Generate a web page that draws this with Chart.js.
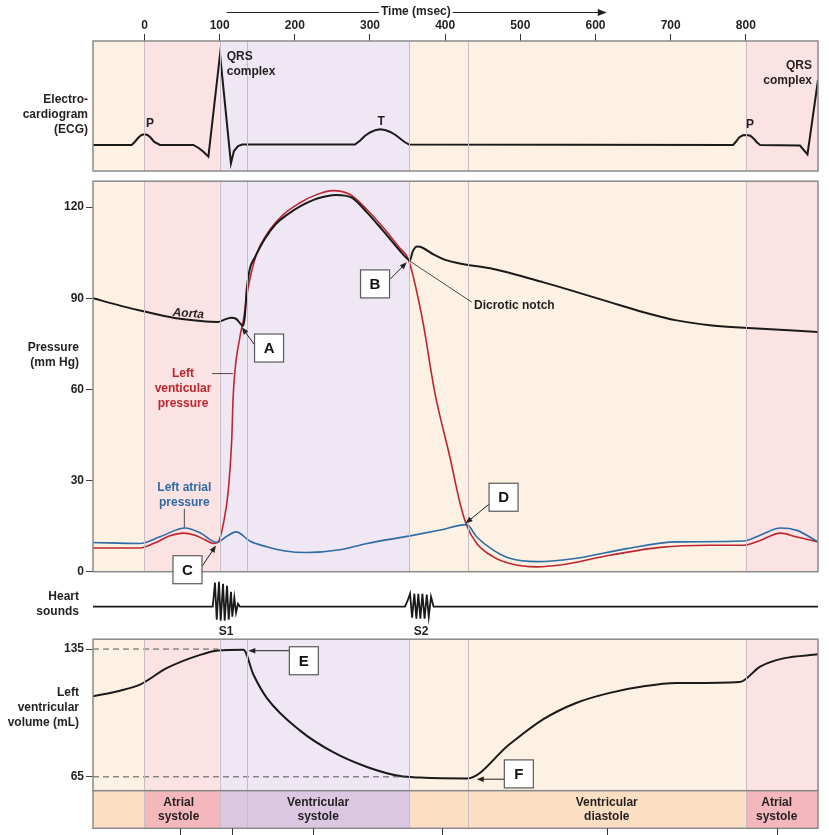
<!DOCTYPE html>
<html>
<head>
<meta charset="utf-8">
<script src="https://cdn.jsdelivr.net/npm/chart.js@4/dist/chart.umd.min.js"></script>
<style>
  html, body { margin: 0; padding: 0; background: #fff; }
  body { width: 829px; height: 835px; position: relative; overflow: hidden; }
  canvas { position: absolute; left: 0; }
</style>
</head>
<body>
<canvas id="graficoEcg" width="829" height="174" style="top:0"></canvas>
<canvas id="graficoPressao" width="829" height="418" style="top:172px"></canvas>
<canvas id="graficoSons" width="829" height="66" style="top:574px"></canvas>
<canvas id="graficoVolume" width="829" height="205" style="top:630px"></canvas>
<canvas id="graficoFases" width="829" height="50" style="top:785px"></canvas>
<script>
// ===== Dados (tempo em ms) =====
const tempoTicks = [0, 100, 200, 300, 400, 500, 600, 700, 800];
const pressaoTicks = [0, 30, 60, 90, 120];
const volumeTicks = [65, 135];

// Fases do ciclo cardíaco
const faseInicio = [-68.5, 0, 100, 352, 800];
const faseFim = [0, 100, 352, 800, 896];
const divisorias = [0, 100, 136, 352, 430, 800];
const faseRotulos = [['Atrial', 'systole'], ['Ventricular', 'systole'], ['Ventricular', 'diastole'], ['Atrial', 'systole']];
const faseRotuloTempo = [45.5, 231, 615, 841];
const pontasInferiores = [47, 116, 224, 395.5, 615, 841];

// ECG
const ecgTempo = [-68.5, -17, -13, -8, -4, 0, 4, 8, 13, 20.6, 65, 72, 78, 85, 100.5, 115, 119, 124.4, 130,
  280, 287, 293, 300, 307, 313, 320, 327, 334, 340, 346, 352,
  783, 787, 791, 796, 801, 806, 811, 815, 819, 872, 882, 896];
const ecgValor = [0, 0, 0.3, 0.75, 1.0, 1.07, 1.0, 0.75, 0.3, 0, 0, -0.3, -0.65, -1.17, 9.07, -1.83, -0.6, -0.1, 0.05,
  0.05, 0.45, 0.9, 1.25, 1.48, 1.58, 1.5, 1.3, 1.0, 0.65, 0.3, 0.05,
  0, 0.35, 0.75, 0.97, 1.0, 0.92, 0.6, 0.25, 0, -0.05, -0.95, 6.5];

// Pressão aórtica (mm Hg)
const aortaTempo = [-68.5, -30, 0, 40, 75, 98, 105, 115, 122, 128, 131, 133.5, 136, 140, 147, 160, 175, 190, 207, 230, 255, 275, 295, 317, 337, 350, 353,
  357, 363, 370, 385, 400, 425, 464, 531, 575, 619, 664, 708, 752, 797, 896];
const aortaPressao = [90, 87.4, 85.6, 83.5, 82.5, 82.2, 82.8, 83.6, 83.2, 81.5, 80.9, 84, 93, 99.5, 103.5, 109.5, 114.5, 117.5, 120.2, 122.8, 124.0, 123.2, 118.5, 112.3, 106.4, 102.9, 102.4,
  105.5, 107.0, 106.6, 104.3, 102.6, 101.2, 99.6, 95.2, 92, 88.7, 85.4, 82.7, 81.1, 80.3, 78.9];

// Pressão ventricular esquerda (mm Hg)
const vePressaoTempo = [-68.5, -6, 14, 34, 52, 67, 80.5, 91.5, 98, 105, 111.5, 116, 118, 127, 131.5, 138, 149, 162.6, 184.7, 207, 228, 251, 273.5, 295.7, 317.8, 339, 351,
  369, 386.6, 406.5, 420, 428.7, 442, 464, 486, 522, 553, 619, 686, 752, 797, 819, 846, 868, 896];
const vePressao = [7.8, 7.8, 9.5, 11.8, 12.7, 12, 10.5, 9.3, 9.8, 15.8, 26.7, 43, 57.7, 77.3, 82.7, 93.6, 104.5, 111, 117.5, 121.4, 124, 125.4, 124.1, 119.2, 113.2, 106.7, 102.8,
  84, 58.5, 37.5, 22.3, 15.2, 9.3, 4.9, 2.7, 1.6, 2.2, 5.4, 8.0, 8.7, 8.7, 10.3, 12.7, 11.4, 9.8];

// Pressão atrial esquerda (mm Hg)
const aePressaoTempo = [-68.5, -6, 20.6, 54, 74, 96, 108.5, 122, 140.6, 162.6, 187, 216, 260, 296, 353.5, 393.5, 428.7,
  442, 464, 486, 522, 575, 641.7, 708, 797, 819, 846, 868, 896];
const aePressao = [9.6, 9.3, 11.5, 14.4, 12.8, 9.6, 11.5, 13.1, 10, 8.2, 6.8, 6.3, 7.2, 9.3, 11.8, 13.7, 15.5,
  11.4, 7.1, 4.4, 3.3, 4.4, 7.6, 9.8, 10.1, 12.0, 14.4, 13.6, 9.8];

// Bulhas cardíacas (amplitude arbitrária)
const somTempo = [-68.5, 90.8, 93.8, 96.1, 99.1, 101.4, 104.5, 106.7, 109.8, 112, 115.1, 116.8, 119.5, 121.8, 124.4, 127,
  346.6, 350, 353.3, 356, 359, 361.7, 364.3, 367, 369.7, 372.6, 375.5, 378.2, 381.2, 384.6, 896];
const somAmplitude = [0, 0, 2.4, -1.3, 2.5, -1.4, 2.3, -1.4, 2.1, -1.3, 1.5, -1.0, 0.9, -0.6, 0.3, 0,
  0, 0.6, 1.3, -1.1, 1.3, -1.2, 1.3, -1.2, 1.3, -1.2, 1.2, -1.0, 1.0, 0, 0];

// Volume ventricular esquerdo (mL)
const volumeTempo = [-68.5, -32.6, -6, 29.5, 74, 98, 131.5, 145, 162.6, 207, 251, 296, 340, 366.5, 428.7,
  486, 530.7, 575, 619, 664, 708, 792, 819, 850, 896];
const volumeValor = [109.2, 112.2, 115.5, 124.5, 131.8, 134.2, 134.6, 120.9, 108.3, 90.3, 78.5, 70.4, 65.4, 64.6, 64.1,
  83, 96.6, 105.6, 111, 114.6, 116.4, 117, 125.4, 129.9, 132.1];
const refVolumeFim = [98, 346];

// ===== Estilo =====
const T_MIN = -68.5, T_MAX = 896;
const FAMILIA = '"Liberation Sans", Arial, Helvetica, sans-serif';
const TEXTO = '#231f20';
const VERMELHO = '#bd2630';
const AZUL = '#2c6ba3';
const corFundo = ['#fdf1e3', '#fce3e3', '#efe8f4', '#fdf1e3', '#fce3e3'];
const corFase = ['#fcdfc3', '#f4b7bb', '#dcc7e3', '#fcdfc3', '#f4b7bb'];

function fonte(tam, estilo) { return (estilo || 'bold') + ' ' + tam + 'px ' + FAMILIA; }
function pontos(xs, ys) { return xs.map((t, i) => ({ x: t, y: ys[i] })); }

function escreve(ctx, linhas, x, y, alinha, cor, f, entre) {
  ctx.font = f; ctx.fillStyle = cor; ctx.textAlign = alinha; ctx.textBaseline = 'middle';
  linhas.forEach((l, i) => ctx.fillText(l, x, y + i * entre));
}

function seta(ctx, x0, y0, x1, y1, cor, tam) {
  const a = Math.atan2(y1 - y0, x1 - x0), c = Math.cos(a), s = Math.sin(a);
  ctx.strokeStyle = cor; ctx.fillStyle = cor; ctx.lineWidth = 1;
  ctx.beginPath(); ctx.moveTo(x0, y0); ctx.lineTo(x1 - c * tam * 0.8, y1 - s * tam * 0.8); ctx.stroke();
  ctx.beginPath(); ctx.moveTo(x1, y1);
  ctx.lineTo(x1 - tam * c + tam * 0.4 * s, y1 - tam * s - tam * 0.4 * c);
  ctx.lineTo(x1 - tam * c - tam * 0.4 * s, y1 - tam * s + tam * 0.4 * c);
  ctx.closePath(); ctx.fill();
}

// Plugin que desenha fundo das fases, moldura, rótulos e caixas de anotação
function criaPluginPainel(cfg) {
  return {
    id: 'painel',
    beforeDatasetsDraw(chart) {
      const { ctx, chartArea: a, scales: { x } } = chart;
      ctx.save();
      if (cfg.sombra) {
        faseInicio.forEach((ini, i) => {
          const x0 = x.getPixelForValue(ini), x1 = x.getPixelForValue(faseFim[i]);
          ctx.fillStyle = corFundo[i];
          ctx.fillRect(x0, a.top, x1 - x0, a.bottom - a.top);
        });
      }
      ctx.restore();
    },
    afterDatasetsDraw(chart) {
      const { ctx, chartArea: a, scales: { x, y } } = chart;
      ctx.save();
      if (cfg.divisorias) {
        ctx.strokeStyle = '#c8bcc4'; ctx.lineWidth = 1;
        divisorias.forEach(t => {
          const px = Math.round(x.getPixelForValue(t)) + 0.5;
          ctx.beginPath(); ctx.moveTo(px, a.top); ctx.lineTo(px, a.bottom); ctx.stroke();
        });
      }
      if (cfg.moldura) {
        ctx.strokeStyle = '#8a8a8a'; ctx.lineWidth = 1.5;
        ctx.strokeRect(a.left, a.top, a.right - a.left, a.bottom - a.top);
      }
      if (cfg.lateral) {
        const l = cfg.lateral;
        escreve(ctx, l.linhas, l.x, a.top + l.dy, 'right', TEXTO, fonte(12), 15);
      }
      (cfg.guias || []).forEach(g => {
        ctx.strokeStyle = g.cor || '#4a4a4a'; ctx.lineWidth = 1;
        ctx.beginPath();
        ctx.moveTo(x.getPixelForValue(g.de[0]), y.getPixelForValue(g.de[1]));
        ctx.lineTo(x.getPixelForValue(g.ate[0]), y.getPixelForValue(g.ate[1]));
        ctx.stroke();
      });
      (cfg.textos || []).forEach(tx => {
        const px = x.getPixelForValue(tx.t), py = y.getPixelForValue(tx.v);
        ctx.save();
        ctx.translate(px, py);
        if (tx.rot) ctx.rotate(tx.rot);
        escreve(ctx, tx.linhas, 0, 0, tx.alinha || 'center', tx.cor || TEXTO, fonte(12, tx.estilo), tx.entre || 15);
        ctx.restore();
      });
      (cfg.notas || []).forEach(n => {
        const cx = x.getPixelForValue(n.caixa[0]), cy = y.getPixelForValue(n.caixa[1]);
        seta(ctx, x.getPixelForValue(n.de[0]), y.getPixelForValue(n.de[1]),
          x.getPixelForValue(n.ponta[0]), y.getPixelForValue(n.ponta[1]), '#222', 7);
        ctx.fillStyle = '#fff'; ctx.fillRect(cx - 14.5, cy - 14, 29, 28);
        ctx.strokeStyle = '#5a5a5a'; ctx.lineWidth = 1.2; ctx.strokeRect(cx - 14.5, cy - 14, 29, 28);
        escreve(ctx, [n.letra], cx, cy + 1, 'center', '#111', fonte(15), 15);
      });
      if (cfg.tituloTempo) {
        const yT = 12, cx = x.getPixelForValue(361);
        ctx.font = fonte(12);
        const w = ctx.measureText('Time (msec)').width;
        escreve(ctx, ['Time (msec)'], cx, yT, 'center', TEXTO, fonte(12), 15);
        ctx.strokeStyle = '#222'; ctx.lineWidth = 1;
        ctx.beginPath(); ctx.moveTo(x.getPixelForValue(109.4), yT + 0.5); ctx.lineTo(cx - w / 2 - 2, yT + 0.5); ctx.stroke();
        seta(ctx, cx + w / 2 + 2, yT + 0.5, x.getPixelForValue(615), yT + 0.5, '#222', 9);
      }
      if (cfg.fases) {
        faseRotulos.forEach((r, i) => {
          escreve(ctx, r, x.getPixelForValue(faseRotuloTempo[i]), a.top + 11.5, 'center', TEXTO, fonte(12), 14.5);
        });
        ctx.strokeStyle = '#333'; ctx.lineWidth = 1;
        pontasInferiores.forEach(t => {
          const px = Math.round(x.getPixelForValue(t)) + 0.5;
          ctx.beginPath(); ctx.moveTo(px, a.bottom); ctx.lineTo(px, a.bottom + 8); ctx.stroke();
        });
      }
      ctx.restore();
    }
  };
}

const baseOpcoes = {
  responsive: false,
  animation: false,
  events: [],
  elements: { point: { radius: 0 } },
  plugins: { legend: { display: false }, tooltip: { enabled: false } }
};

function eixoTempo(extra) {
  return Object.assign({ type: 'linear', min: T_MIN, max: T_MAX, display: false }, extra || {});
}

function eixoValores(min, max, ticks) {
  return {
    min: min, max: max,
    afterFit: s => { s.width = 93; },
    afterBuildTicks: s => { s.ticks = ticks.map(v => ({ value: v })); },
    ticks: { font: { family: FAMILIA, size: 12, weight: 'bold' }, color: TEXTO, padding: 2 },
    grid: { drawOnChartArea: false, tickLength: 7, color: '#444', lineWidth: 1 },
    border: { display: false }
  };
}

function linha(dados, cor, largura, extra) {
  return Object.assign({ data: dados, borderColor: cor, borderWidth: largura, pointRadius: 0, fill: false }, extra || {});
}

document.addEventListener('DOMContentLoaded', () => {
  // ECG com eixo de tempo no topo
  new Chart(document.getElementById('graficoEcg'), {
    type: 'line',
    data: { datasets: [linha(pontos(ecgTempo, ecgValor), '#1a1a1a', 2, { tension: 0 })] },
    options: Object.assign({}, baseOpcoes, {
      layout: { padding: { left: 93, right: 11, top: 0, bottom: 3 } },
      scales: {
        x: eixoTempo({
          display: true, position: 'top',
          afterFit: s => { s.height = 41; },
          afterBuildTicks: s => { s.ticks = tempoTicks.map(v => ({ value: v })); },
          ticks: { font: { family: FAMILIA, size: 12, weight: 'bold' }, color: TEXTO, padding: 1, maxRotation: 0 },
          grid: { drawOnChartArea: false, tickLength: 7, color: '#333' },
          border: { display: false }
        }),
        y: { display: false, min: -2.6, max: 10.4 }
      }
    }),
    plugins: [criaPluginPainel({
      sombra: true, divisorias: true, moldura: true, tituloTempo: true,
      lateral: { linhas: ['Electro-', 'cardiogram', '(ECG)'], x: 88, dy: 58.3 },
      textos: [
        { linhas: ['P'], t: 7.3, v: 2.1 },
        { linhas: ['T'], t: 314.7, v: 2.35 },
        { linhas: ['P'], t: 805.7, v: 2.0 },
        { linhas: ['QRS', 'complex'], t: 109.4, v: 8.83, alinha: 'left' },
        { linhas: ['QRS', 'complex'], t: 888, v: 7.93, alinha: 'right' }
      ]
    })]
  });

  // Pressões
  new Chart(document.getElementById('graficoPressao'), {
    type: 'line',
    data: {
      datasets: [
        linha(pontos(aortaTempo, aortaPressao), '#1a1a1a', 2, { cubicInterpolationMode: 'monotone' }),
        linha(pontos(aePressaoTempo, aePressao), AZUL, 1.6, { cubicInterpolationMode: 'monotone' }),
        linha(pontos(vePressaoTempo, vePressao), VERMELHO, 1.6, { cubicInterpolationMode: 'monotone' })
      ]
    },
    options: Object.assign({}, baseOpcoes, {
      layout: { padding: { left: 0, right: 11, top: 6, bottom: 18.3 } },
      scales: { x: eixoTempo(), y: eixoValores(0, 128.5, pressaoTicks) }
    }),
    plugins: [criaPluginPainel({
      sombra: true, divisorias: true, moldura: true,
      lateral: { linhas: ['Pressure', '(mm Hg)'], x: 79, dy: 166.3 },
      guias: [
        { de: [89.8, 65.2], ate: [117.8, 65.2] },
        { de: [53, 20.7], ate: [53, 14.6] },
        { de: [352.4, 102.3], ate: [435.4, 88.7] }
      ],
      textos: [
        { linhas: ['Aorta'], t: 58.3, v: 84.9, estilo: 'italic bold', rot: 0.07 },
        { linhas: ['Left', 'venticular', 'pressure'], t: 51.2, v: 65.3, cor: VERMELHO },
        { linhas: ['Left atrial', 'pressure'], t: 53, v: 27.6, cor: AZUL },
        { linhas: ['Dicrotic notch'], t: 438.4, v: 87.4, alinha: 'left' }
      ],
      notas: [
        { letra: 'A', caixa: [165.7, 73.6], de: [148.4, 74.0], ponta: [129.5, 80.4] },
        { letra: 'B', caixa: [306.7, 94.7], de: [326.6, 96.2], ponta: [348.9, 101.8] },
        { letra: 'C', caixa: [57.2, 0.65], de: [76.1, 1.6], ponta: [95.1, 8.6] },
        { letra: 'D', caixa: [477.7, 24.5], de: [458.8, 22.3], ponta: [427.1, 15.9] }
      ]
    })]
  });

  // Bulhas cardíacas
  new Chart(document.getElementById('graficoSons'), {
    type: 'line',
    data: { datasets: [linha(pontos(somTempo, somAmplitude), '#1a1a1a', 1.8, { tension: 0 })] },
    options: Object.assign({}, baseOpcoes, {
      layout: { padding: { left: 93, right: 11, top: 6, bottom: 15 } },
      scales: { x: eixoTempo(), y: { display: false, min: -1.83, max: 2.67 } }
    }),
    plugins: [criaPluginPainel({
      lateral: { linhas: ['Heart', 'sounds'], x: 79, dy: 16.7 },
      textos: [
        { linhas: ['S1'], t: 108.5, v: -2.45 },
        { linhas: ['S2'], t: 367.9, v: -2.45 }
      ]
    })]
  });

  // Volume ventricular
  new Chart(document.getElementById('graficoVolume'), {
    type: 'line',
    data: {
      datasets: [
        linha([{ x: T_MIN, y: volumeTicks[1] }, { x: refVolumeFim[0], y: volumeTicks[1] }], '#555', 1, { borderDash: [6, 4] }),
        linha([{ x: T_MIN, y: volumeTicks[0] }, { x: refVolumeFim[1], y: volumeTicks[0] }], '#555', 1, { borderDash: [6, 4] }),
        linha(pontos(volumeTempo, volumeValor), '#1a1a1a', 2, { cubicInterpolationMode: 'monotone' })
      ]
    },
    options: Object.assign({}, baseOpcoes, {
      layout: { padding: { left: 0, right: 11, top: 7.3, bottom: 44.3 } },
      scales: { x: eixoTempo(), y: eixoValores(57.4, 140.4, volumeTicks) }
    }),
    plugins: [criaPluginPainel({
      sombra: true, divisorias: true, moldura: true,
      lateral: { linhas: ['Left', 'ventricular', 'volume (mL)'], x: 79, dy: 53.7 },
      notas: [
        { letra: 'E', caixa: [212, 128.6], de: [192.7, 134.1], ponta: [138.1, 134.1] },
        { letra: 'F', caixa: [498, 66.6], de: [478.8, 63.7], ponta: [442, 63.7] }
      ]
    })]
  });

  // Barra das fases (barras flutuantes horizontais)
  new Chart(document.getElementById('graficoFases'), {
    type: 'bar',
    data: {
      labels: ['fase'],
      datasets: faseInicio.map((ini, i) => ({
        data: [[ini, faseFim[i]]],
        backgroundColor: corFase[i],
        borderWidth: 0,
        barPercentage: 1,
        categoryPercentage: 1,
        grouped: false
      }))
    },
    options: Object.assign({}, baseOpcoes, {
      indexAxis: 'y',
      layout: { padding: { left: 93, right: 11, top: 5.7, bottom: 6.7 } },
      scales: { x: eixoTempo(), y: { display: false } }
    }),
    plugins: [criaPluginPainel({ divisorias: true, moldura: true, fases: true })]
  });
});
</script>
</body>
</html>
